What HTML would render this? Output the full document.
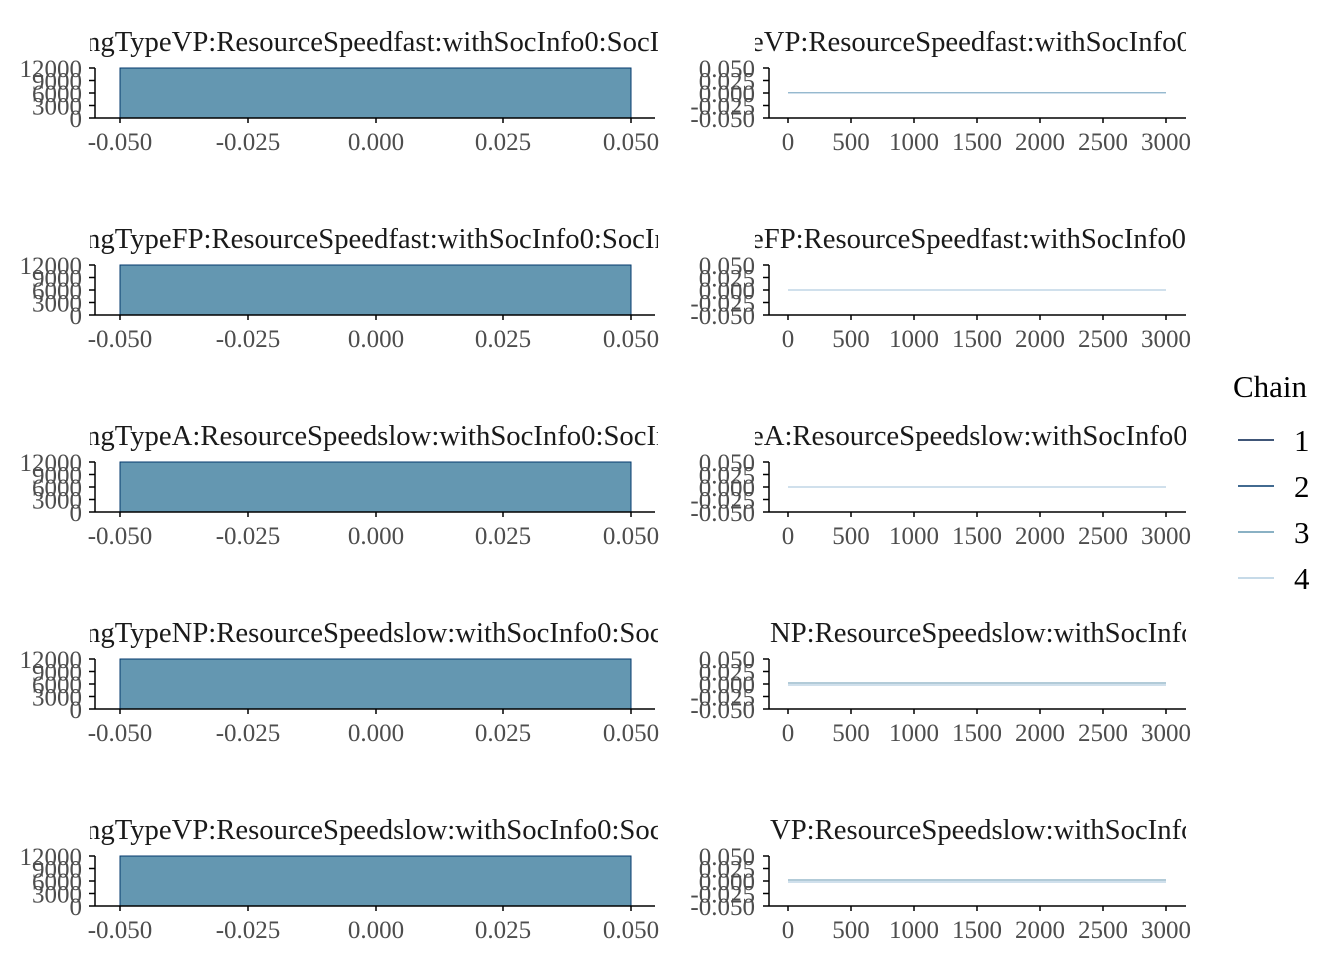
<!DOCTYPE html>
<html><head><meta charset="utf-8"><style>
html,body{margin:0;padding:0;background:#fff;}
svg{display:block;font-family:"Liberation Serif",serif;}
.t{font-size:28.7px;fill:#1a1a1a;}
.yl{font-size:25px;fill:#4d4d4d;text-anchor:end;}
.xl{font-size:25px;fill:#4d4d4d;text-anchor:middle;}
.ax{stroke:#000;stroke-width:1.5;fill:none;}
.lg{font-size:31px;fill:#000;}
</style></head><body>
<svg width="1344" height="960" viewBox="0 0 1344 960" xmlns="http://www.w3.org/2000/svg">
<defs>
<clipPath id="cl"><rect x="90" y="0" width="568" height="960"/></clipPath>
<clipPath id="cr"><rect x="755" y="0" width="431" height="960"/></clipPath>
<g id="lp">
<rect x="120" y="68" width="511" height="50" fill="#6497b1" stroke="#03396c" stroke-width="1"/>
<path class="ax" d="M95 68V118H655M89 68H95M89 80.5H95M89 93H95M89 105.5H95M89 118H95M120 118V123M248 118V123M376 118V123M503 118V123M631 118V123"/>
<text class="yl" x="82" y="77">12000</text>
<text class="yl" x="82" y="89.5">9000</text>
<text class="yl" x="82" y="102">6000</text>
<text class="yl" x="82" y="114.5">3000</text>
<text class="yl" x="82" y="127">0</text>
<text class="xl" x="120" y="150">-0.050</text>
<text class="xl" x="248" y="150">-0.025</text>
<text class="xl" x="376" y="150">0.000</text>
<text class="xl" x="503" y="150">0.025</text>
<text class="xl" x="631" y="150">0.050</text>
</g>
<g id="rp">
<path class="ax" d="M769 68V118H1186M763 68H769M763 80.5H769M763 93H769M763 105.5H769M763 118H769M788 118V123M851 118V123M914 118V123M977 118V123M1040 118V123M1103 118V123M1166 118V123"/>
<text class="yl" x="755" y="77">0.050</text>
<text class="yl" x="755" y="89.5">0.025</text>
<text class="yl" x="755" y="102">0.000</text>
<text class="yl" x="755" y="114.5">-0.025</text>
<text class="yl" x="755" y="127">-0.050</text>
<text class="xl" x="788" y="150">0</text>
<text class="xl" x="851" y="150">500</text>
<text class="xl" x="914" y="150">1000</text>
<text class="xl" x="977" y="150">1500</text>
<text class="xl" x="1040" y="150">2000</text>
<text class="xl" x="1103" y="150">2500</text>
<text class="xl" x="1166" y="150">3000</text>
</g>
</defs>

<use href="#lp"/><use href="#rp"/>
<path d="M788 92.5H1166" stroke="#6497b1" stroke-width="1"/>
<path d="M788 93H1166" stroke="#b3cde0" stroke-width="1.2"/>
<text class="t" x="86" y="51" clip-path="url(#cl)">ngTypeVP:ResourceSpeedfast:withSocInfo0:SocInfoRate</text>
<text class="t" x="751" y="51" clip-path="url(#cr)">eVP:ResourceSpeedfast:withSocInfo0:SocInfoRate</text>

<g transform="translate(0,197)">
<use href="#lp"/><use href="#rp"/>
<path d="M788 93H1166" stroke="#b3cde0" stroke-width="1.2"/>
</g>
<text class="t" x="86" y="248" clip-path="url(#cl)">ngTypeFP:ResourceSpeedfast:withSocInfo0:SocInfoRate</text>
<text class="t" x="751" y="248" clip-path="url(#cr)">eFP:ResourceSpeedfast:withSocInfo0:SocInfoRate</text>

<g transform="translate(0,394)">
<use href="#lp"/><use href="#rp"/>
<path d="M788 93H1166" stroke="#b3cde0" stroke-width="1.2"/>
</g>
<text class="t" x="86" y="445" clip-path="url(#cl)">ngTypeA:ResourceSpeedslow:withSocInfo0:SocInfoRate</text>
<text class="t" x="751" y="445" clip-path="url(#cr)">eA:ResourceSpeedslow:withSocInfo0:SocInfoRate</text>

<g transform="translate(0,591)">
<use href="#lp"/><use href="#rp"/>
<path d="M788 92H1166" stroke="#6497b1" stroke-width="1"/>
<path d="M788 94H1166" stroke="#b3cde0" stroke-width="1.2"/>
</g>
<text class="t" x="86" y="642" clip-path="url(#cl)">ngTypeNP:ResourceSpeedslow:withSocInfo0:SocInfoRate</text>
<text class="t" x="770" y="642" clip-path="url(#cr)">NP:ResourceSpeedslow:withSocInfo0:SocInfoRate</text>

<g transform="translate(0,788)">
<use href="#lp"/><use href="#rp"/>
<path d="M788 92H1166" stroke="#6497b1" stroke-width="1"/>
<path d="M788 94H1166" stroke="#b3cde0" stroke-width="1.2"/>
</g>
<text class="t" x="86" y="839" clip-path="url(#cl)">ngTypeVP:ResourceSpeedslow:withSocInfo0:SocInfoRate</text>
<text class="t" x="770" y="839" clip-path="url(#cr)">VP:ResourceSpeedslow:withSocInfo0:SocInfoRate</text>

<text class="lg" x="1233" y="397">Chain</text>
<path d="M1238 440H1274" stroke="#011f4b" stroke-width="1.5"/>
<path d="M1238 486H1274" stroke="#03396c" stroke-width="1.5"/>
<path d="M1238 532H1274" stroke="#6497b1" stroke-width="1.5"/>
<path d="M1238 578H1274" stroke="#b3cde0" stroke-width="1.5"/>
<text class="lg" x="1294" y="451">1</text>
<text class="lg" x="1294" y="497">2</text>
<text class="lg" x="1294" y="543">3</text>
<text class="lg" x="1294" y="589">4</text>
</svg>
</body></html>
